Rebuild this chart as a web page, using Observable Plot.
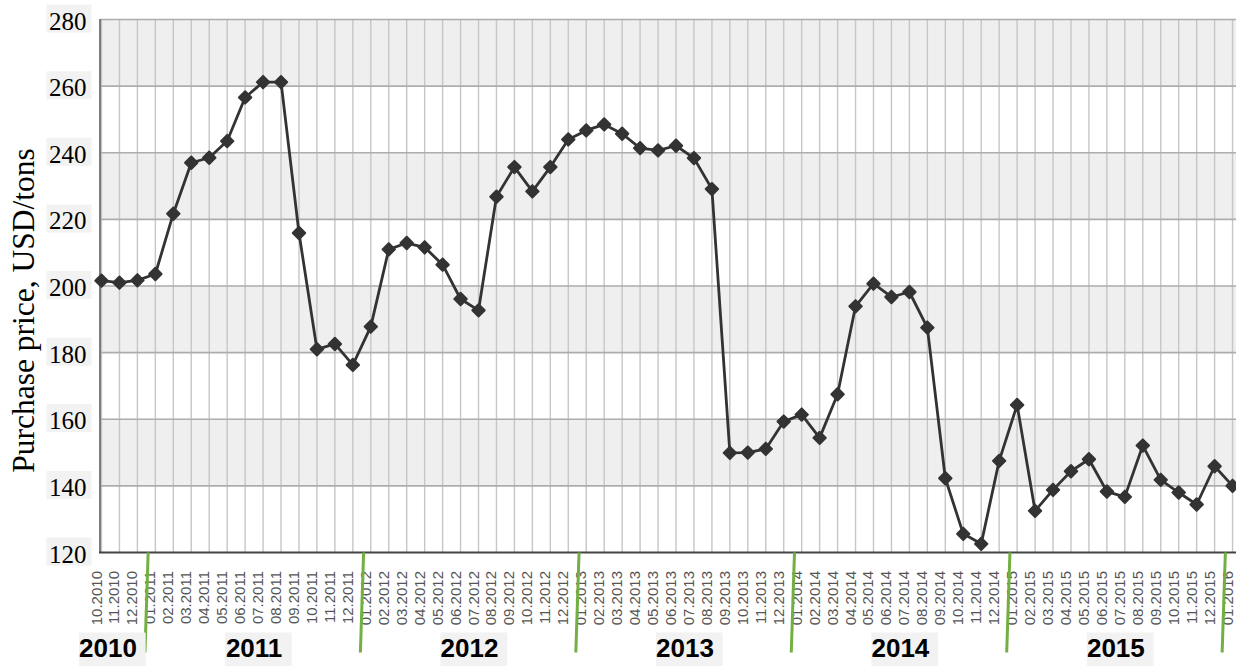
<!DOCTYPE html>
<html>
<head>
<meta charset="utf-8">
<script src="https://cdn.jsdelivr.net/npm/d3@7"></script>
<script src="https://cdn.jsdelivr.net/npm/@observablehq/plot@0.6"></script>
<style>
  html, body { margin: 0; padding: 0; background: #ffffff; }
  #chart { width: 1236px; height: 666px; overflow: hidden; }
</style>
</head>
<body>
<div id="chart"></div>
<script>
// ---- data ----
const months = [
  "10.2010","11.2010","12.2010",
  "01.2011","02.2011","03.2011","04.2011","05.2011","06.2011","07.2011","08.2011","09.2011","10.2011","11.2011","12.2011",
  "01.2012","02.2012","03.2012","04.2012","05.2012","06.2012","07.2012","08.2012","09.2012","10.2012","11.2012","12.2012",
  "01.2013","02.2013","03.2013","04.2013","05.2013","06.2013","07.2013","08.2013","09.2013","10.2013","11.2013","12.2013",
  "01.2014","02.2014","03.2014","04.2014","05.2014","06.2014","07.2014","08.2014","09.2014","10.2014","11.2014","12.2014",
  "01.2015","02.2015","03.2015","04.2015","05.2015","06.2015","07.2015","08.2015","09.2015","10.2015","11.2015","12.2015",
  "01.2016"
];
const prices = [
  201.6, 201.0, 201.7,
  203.6, 221.7, 237.0, 238.5, 243.5, 256.6, 261.2, 261.2, 215.9, 181.0, 182.6, 176.3,
  187.8, 211.0, 212.9, 211.6, 206.4, 196.1, 192.7, 226.8, 235.7, 228.4, 235.7, 244.0,
  246.7, 248.5, 245.7, 241.4, 240.7, 242.1, 238.4, 229.1, 149.9, 150.0, 151.1, 159.3,
  161.4, 154.4, 167.5, 193.9, 200.7, 196.7, 198.2, 187.5, 142.3, 125.6, 122.6, 147.5,
  164.3, 132.5, 138.8, 144.4, 148.0, 138.3, 136.7, 152.1, 141.8, 138.0, 134.4, 145.9,
  140.0
];
const yTicks = [120, 140, 160, 180, 200, 220, 240, 260, 280];
const years = ["2010", "2011", "2012", "2013", "2014", "2015"];
const yTitle = "Purchase price, USD/tons";

// ---- derived tables ----
const data = months.map((m, i) => ({ i, month: m, year: m.slice(3), price: prices[i] }));
const yearData = years.map(y => {
  const idx = data.filter(d => d.year === y).map(d => d.i);
  return { year: y, center: d3.mean(idx) };
});
const yearStarts = data.filter(d => d.month.startsWith("01.")).map(d => d.i);
const bands = [];
for (let k = 1; k + 1 < yTicks.length; k += 2) bands.push([yTicks[k], yTicks[k + 1]]);

const boxSymbol = (x0, y0, w, h) => ({
  draw(ctx) { ctx.moveTo(x0, y0); ctx.lineTo(x0 + w, y0); ctx.lineTo(x0 + w, y0 + h); ctx.lineTo(x0, y0 + h); ctx.closePath(); }
});

const serif = "'Liberation Serif', 'Times New Roman', serif";
const sans = "'Liberation Sans', Arial, sans-serif";

const chart = Plot.plot({
  width: 1236,
  height: 666,
  marginLeft: 101,
  marginRight: 0,
  marginTop: 19,
  marginBottom: 114,
  x: { type: "linear", domain: [0, months.length - 1 + 0.22], axis: null },
  y: { domain: [yTicks[0], yTicks[yTicks.length - 1]], axis: null },
  style: { background: "#ffffff", fontFamily: sans, overflow: "visible" },
  marks: [
    // background bands
    Plot.rect(bands, { y1: d => d[0], y2: d => d[1], fill: "#efefef", insetLeft: -1 }),
    // vertical month gridlines
    Plot.ruleX(data, { x: "i", stroke: "#c6c6c6", strokeWidth: 1.4 }),
    // horizontal gridlines
    Plot.ruleY(yTicks.slice(1), { stroke: "#adadad", strokeWidth: 1.6 }),
    // axes lines
    Plot.ruleX([0], { stroke: "#555", strokeWidth: 1.5, dx: -1.5 }),
    Plot.ruleY([yTicks[0]], { stroke: "#444", strokeWidth: 2, insetLeft: -2 }),
    // series
    Plot.line(data, { x: "i", y: "price", stroke: "#333", strokeWidth: 2.8 }),
    Plot.dot(data, { x: "i", y: "price", symbol: "diamond2", r: 5.6, fill: "#333", stroke: "#333", strokeWidth: 2, strokeLinejoin: "round" }),
    // month tick labels
    Plot.text(data, { x: "i", frameAnchor: "bottom", text: "month", rotate: -90, textAnchor: "end", dy: 18.5, fontSize: 15, fill: "#555", fontFamily: sans }),
    // year separators
    Plot.link(yearStarts, { x1: d => d - 0.4, x2: d => d - 0.58, y1: () => yTicks[0], y2: () => yTicks[0] - 30, stroke: "#72b043", strokeWidth: 3 }),
    // year label boxes and labels
    Plot.dot(yearData.slice(0, 1), { x: "center", y: () => yTicks[0], dx: -11.5, dy: 97.2, symbol: boxSymbol(-29, -17.15, 66.7, 34.3), fill: "#f2f2f2", stroke: "none" }),
    Plot.dot(yearData.slice(1), { x: "center", y: () => yTicks[0], dy: 97.2, symbol: boxSymbol(-29, -17.15, 66.7, 34.3), fill: "#f2f2f2", stroke: "none" }),
    Plot.text(yearData.slice(0, 1), { x: "center", frameAnchor: "bottom", dx: -11.5, dy: 104, text: "year", fontSize: 26, fontWeight: "bold", fill: "#000", fontFamily: sans }),
    Plot.text(yearData.slice(1), { x: "center", frameAnchor: "bottom", dy: 104, text: "year", fontSize: 26, fontWeight: "bold", fill: "#000", fontFamily: sans }),
    // y tick label boxes and labels
    Plot.dot(yTicks, { x: () => 0, y: d => d, dx: -32.5, symbol: boxSymbol(-22.5, -15, 45, 28), fill: "#f2f2f2", stroke: "none" }),
    Plot.text(yTicks, { y: d => d, frameAnchor: "left", textAnchor: "end", dx: -15, dy: 2, text: d => String(d), fontSize: 25, fill: "#000", fontFamily: serif }),
    // y title
    Plot.text([yTitle], { frameAnchor: "left", textAnchor: "middle", dx: -78, dy: 24.5, rotate: -90, text: d => d, fontSize: 31.5, fill: "#000", fontFamily: serif })
  ]
});
document.getElementById("chart").appendChild(chart);
</script>
</body>
</html>
